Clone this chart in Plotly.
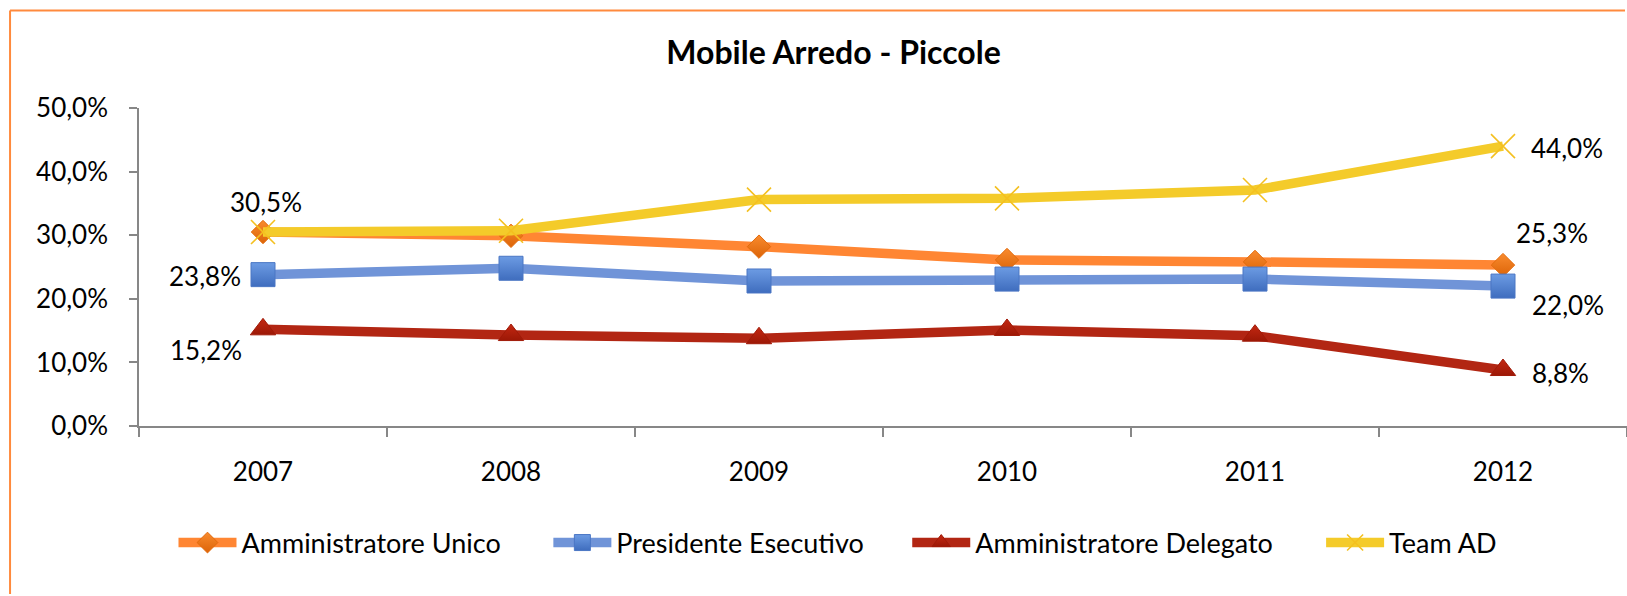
import plotly.graph_objects as go

# Chart data
years = ["2007", "2008", "2009", "2010", "2011", "2012"]
amministratore_unico = [30.5, 29.9, 28.2, 26.1, 25.8, 25.3]
presidente_esecutivo = [23.8, 24.8, 22.8, 23.1, 23.1, 22.0]
amministratore_delegato = [15.2, 14.3, 13.8, 15.1, 14.2, 8.8]
team_ad = [30.5, 30.7, 35.6, 35.8, 37.1, 44.0]

y_ticks = [0, 10, 20, 30, 40, 50]

FONT = "Lato"
W, H = 1627, 596
ML, MR, MT, MB = 138.5, 0, 108, 170
PW = W - ML - MR
PH = H - MT - MB


def pct(v):
    return f"{v:.1f}".replace(".", ",") + "%"


def px_x(x):
    return (x - ML) / PW


def px_y(y):
    return (H - MB - y) / PH


series = [
    dict(name="Amministratore Unico", y=amministratore_unico, line="#FF8633",
         marker=dict(symbol="diamond", size=18, color="#F98B2E",
                     gradient=dict(type="vertical", color="#DC6408"),
                     line=dict(color="#E26A0C", width=1)), legend_x=173),
    dict(name="Presidente Esecutivo", y=presidente_esecutivo, line="#7094D8",
         marker=dict(symbol="square", size=24, color="#6C9BE3",
                     gradient=dict(type="vertical", color="#3F6DBE"),
                     line=dict(color="#4A76C4", width=1)), legend_x=548),
    dict(name="Amministratore Delegato", y=amministratore_delegato, line="#B22613",
         marker=dict(symbol="triangle-up", size=22, color="#C42812",
                     gradient=dict(type="vertical", color="#9C1806"),
                     line=dict(color="#A01A08", width=1)), legend_x=907),
    dict(name="Team AD", y=team_ad, line="#F4CB2A",
         marker=dict(symbol="x-thin", size=24, color="#F4C020",
                     line=dict(color="#F4C020", width=1.6)), legend_x=1321),
]

fig = go.Figure()
legend_layout = {}
for i, s in enumerate(series):
    key = "legend" if i == 0 else f"legend{i + 1}"
    fig.add_trace(go.Scatter(
        x=years, y=s["y"], name=s["name"], mode="lines+markers",
        line=dict(color=s["line"], width=9.5),
        marker=s["marker"], legend=key,
    ))
    legend_layout[key] = dict(
        orientation="h", x=px_x(s["legend_x"]), xanchor="left",
        y=px_y(543), yanchor="middle",
        font=dict(family=FONT, size=27, color="#000000"),
        itemwidth=58, bgcolor="rgba(0,0,0,0)",
    )

# Value labels at first and last year (x given as category index)
first, last = 0, len(years) - 1
labels = [
    (first, amministratore_unico[first], "center", 3, 30),
    (first, presidente_esecutivo[first], "right", -20, -1),
    (first, amministratore_delegato[first], "right", -19, -21),
    (last, team_ad[last], "left", 26, -2),
    (last, amministratore_unico[last], "left", 11, 32),
    (last, presidente_esecutivo[last], "left", 27, -19),
    (last, amministratore_delegato[last], "left", 27, -3),
]
annotations = []
for xi, v, xa, dx, dy in labels:
    annotations.append(dict(x=xi, y=v, xref="x", yref="y", text=pct(v),
                            showarrow=False, xanchor=xa, yanchor="middle",
                            xshift=dx, yshift=dy,
                            font=dict(family=FONT, size=26, color="#000000")))

# Outer chart frame: top and left edges, drawn above everything
frame = dict(color="#FF8A3D", width=2)
shapes = [
    dict(type="line", xref="paper", yref="paper", x0=px_x(9.5), x1=px_x(W - 2),
         y0=px_y(10.5), y1=px_y(10.5), line=frame, layer="above"),
    dict(type="line", xref="paper", yref="paper", x0=px_x(9.5), x1=px_x(9.5),
         y0=px_y(10.5), y1=px_y(H - 2), line=frame, layer="above"),
]

fig.update_layout(
    width=W, height=H,
    margin=dict(l=ML, r=MR, t=MT, b=MB, pad=0),
    paper_bgcolor="white", plot_bgcolor="white",
    font=dict(family=FONT, size=26, color="#000000"),
    title=dict(text="<b>Mobile Arredo - Piccole</b>", x=833.5 / W, xanchor="center",
               y=1 - 53 / H, yanchor="middle",
               font=dict(family=FONT, size=32, color="#000000")),
    showlegend=True,
    annotations=annotations,
    shapes=shapes,
    xaxis=dict(type="category", range=[-0.5, 5.5], showgrid=False,
               showline=True, linecolor="#878787", linewidth=1.5,
               ticks="outside", ticklen=9, tickcolor="#878787", tickwidth=1.5,
               tickson="boundaries", ticklabelstandoff=22,
               tickfont=dict(family=FONT, size=26, color="#000000")),
    yaxis=dict(range=[0, 50], tickmode="array", tickvals=y_ticks,
               ticktext=[pct(t) for t in y_ticks],
               showgrid=False, zeroline=False,
               showline=True, linecolor="#878787", linewidth=1.5,
               ticks="outside", ticklen=8, tickcolor="#878787", tickwidth=1.5,
               ticklabelstandoff=16,
               tickfont=dict(family=FONT, size=26, color="#000000")),
    **legend_layout,
)

fig.write_html("out.html")
